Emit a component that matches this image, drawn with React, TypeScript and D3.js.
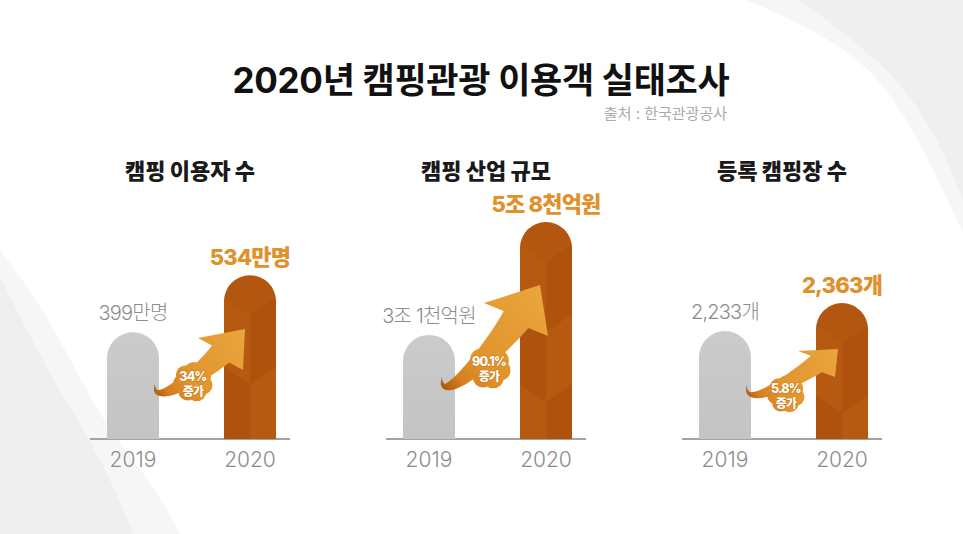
import React from "react";
import * as d3 from "d3";

const WIDTH = 963;
const HEIGHT = 534;
const BASELINE = 439;
const BAR_WIDTH = 52;
const MAX_BAR = 230;
const FONT = "Inter, 'Noto Sans CJK KR', 'Noto Sans', sans-serif";

const ORANGE = "#b3560f";
const LABEL_ORANGE = "#e0912b";
const GRAY_TEXT = "#8c8c8c";

// data
const panelTitles = ["캠핑 이용자 수", "캠핑 산업 규모", "등록 캠핑장 수"];
const years = ["2019", "2020"];
const values2019 = [399, 3.1, 2233];
const values2020 = [534, 5.8, 2363];
const labels2019 = ["399만명", "3조 1천억원", "2,233개"];
const labels2020 = ["534만명", "5조 8천억원", "2,363개"];
const growthLabels = ["34%", "90.1%", "5.8%"];
// the bars in the picture sit on a truncated axis
const axisMin = [146, 0.61, 1732];
const axisMax = [691, 6.11, 2800];

type Pt = [number, number];

// arrow layout, x relative to the panel's left edge
const ARROWS = [
    {tail: [65, 384], barbA: [108, 338], barbB: [153, 370], tip: [155, 329], text: [103, 381], r: 19, hw: 12},
    {tail: [56, 377], barbA: [98, 303], barbB: [162, 336], tip: [154, 285], text: [103, 366], r: 21, hw: 15},
    {tail: [65, 385], barbA: [116, 351], barbB: [153, 377], tip: [156, 349], text: [104, 393], r: 18, hw: 10},
];

function arrowPath(T: Pt, a: Pt, b: Pt, E: Pt, hw: number) {
    const B: Pt = [(a[0] + b[0]) / 2, (a[1] + b[1]) / 2];
    let dx = E[0] - B[0], dy = E[1] - B[1];
    const dl = Math.hypot(dx, dy);
    dx /= dl; dy /= dl;
    const dist = Math.hypot(B[0] - T[0], B[1] - T[1]);
    const P1: Pt = [T[0] - 4, T[1] + 0.34 * dist];
    const P2: Pt = [B[0] - dx * 0.45 * dist, B[1] - dy * 0.45 * dist];
    const left: Pt[] = [];
    const right: Pt[] = [];
    const N = 48;
    for (let i = 0; i <= N; i++) {
        const t = i / N, u = 1 - t;
        const cx = u * u * u * T[0] + 3 * u * u * t * P1[0] + 3 * u * t * t * P2[0] + t * t * t * B[0];
        const cy = u * u * u * T[1] + 3 * u * u * t * P1[1] + 3 * u * t * t * P2[1] + t * t * t * B[1];
        const tx = 3 * u * u * (P1[0] - T[0]) + 6 * u * t * (P2[0] - P1[0]) + 3 * t * t * (B[0] - P2[0]);
        const ty = 3 * u * u * (P1[1] - T[1]) + 6 * u * t * (P2[1] - P1[1]) + 3 * t * t * (B[1] - P2[1]);
        const tl = Math.hypot(tx, ty) || 1;
        const nx = -ty / tl, ny = tx / tl;
        const w = hw * Math.pow(t, 0.95);
        left.push([cx + nx * w, cy + ny * w]);
        right.push([cx - nx * w, cy - ny * w]);
    }
    const pts = [...left, b, E, a, ...right.reverse()];
    return d3.line()(pts) + "Z";
}

function barPath(x0: number, top: number, w: number) {
    const r = w / 2;
    return `M${x0},${BASELINE}V${top + r}A${r},${r} 0 0 1 ${x0 + w},${top + r}V${BASELINE}Z`;
}

const swoosh = d3.line().curve(d3.curveNatural);

export default function App() {
    const panelX = d3.scaleBand<number>().domain(d3.range(3)).range([90, 90 + 296 * 3]);
    const yearX = d3.scalePoint<string>().domain(years).range([43, 160]);

    return (
        <svg width={WIDTH} height={HEIGHT} style={{position: "absolute", left: 0, top: 0}} fontFamily={FONT}>
            <rect width={WIDTH} height={HEIGHT} fill="#fff"/>
            {/* background swooshes */}
            <path d={swoosh([[747, 0], [833, 43], [900, 110], [963, 233]]) + "L963,0Z"} fill="#f6f6f6"/>
            <path d={swoosh([[800, 0], [883, 67], [933, 133], [963, 200]]) + "L963,0Z"} fill="#efefef"/>
            <path d={swoosh([[0, 250], [50, 323], [100, 413], [150, 483], [180, 534]]) + "L0,534Z"} fill="#f6f6f6"/>
            <path d={swoosh([[0, 277], [50, 373], [100, 460], [133, 534]]) + "L0,534Z"} fill="#efefef"/>

            <text x={481} y={93} textAnchor="middle" fontSize={35} fontWeight={700} fill="#111" letterSpacing={-0.3}>
                2020년 캠핑관광 이용객 실태조사
            </text>
            <text x={727} y={119} textAnchor="end" fontSize={15} fill="#aaaaaa">출처 : 한국관광공사</text>

            <defs>
                {ARROWS.map((ar, i) => {
                    const px = panelX(i)!;
                    return (
                        <linearGradient key={i} id={"arrowGrad" + i} gradientUnits="userSpaceOnUse"
                                        x1={px + ar.tail[0] - 5} y1={ar.tail[1] + 10} x2={px + ar.tip[0]} y2={ar.tip[1]}>
                            <stop offset="0" stopColor="#a4520b"/>
                            <stop offset="0.15" stopColor="#d68020"/>
                            <stop offset="0.35" stopColor="#e0932b"/>
                            <stop offset="1" stopColor="#eba63f"/>
                        </linearGradient>
                    );
                })}
                <linearGradient id="grayGrad" x1="0" y1="0" x2="0" y2="1">
                    <stop offset="0" stopColor="#cbcbcb"/>
                    <stop offset="1" stopColor="#c4c4c4"/>
                </linearGradient>
                {panelTitles.map((_, i) => {
                    const y = d3.scaleLinear().domain([axisMin[i], axisMax[i]]).range([0, MAX_BAR]);
                    const x0 = panelX(i)! + yearX("2020")! - BAR_WIDTH / 2;
                    return (
                        <clipPath key={i} id={"barClip" + i}>
                            <path d={barPath(x0, BASELINE - y(values2020[i]), BAR_WIDTH)}/>
                        </clipPath>
                    );
                })}
            </defs>

            {panelTitles.map((title, i) => {
                const px = panelX(i)!;
                const y = d3.scaleLinear().domain([axisMin[i], axisMax[i]]).range([0, MAX_BAR]);
                const h19 = y(values2019[i]);
                const h20 = y(values2020[i]);
                const x19 = px + yearX("2019")!;
                const x20 = px + yearX("2020")!;
                const top20 = BASELINE - h20;
                const ar = ARROWS[i];
                const sh = (p: number[]): Pt => [px + p[0], p[1]];
                const facets = d3.range(0, Math.ceil(h20 / 70) + 1).map(k => top20 + 22 + k * 70);
                const bx0 = x20 - BAR_WIDTH / 2, bx1 = x20 + BAR_WIDTH / 2;
                const tc = sh(ar.text);
                const bumps = d3.range(7).map(k => {
                    const a = (k / 7) * Math.PI * 2 + 0.3;
                    return [tc[0] + Math.cos(a) * ar.r * 0.55, tc[1] + Math.sin(a) * ar.r * 0.55];
                });
                const grad = `url(#arrowGrad${i})`;
                return (
                    <g key={i}>
                        <text x={px + 100} y={179} textAnchor="middle" fontSize={22} fontWeight={900} fill="#1a1a1a">
                            {title}
                        </text>
                        <line x1={px} x2={px + 200} y1={BASELINE} y2={BASELINE} stroke="#a3a3a3" strokeWidth={2}/>

                        <path d={barPath(x19 - BAR_WIDTH / 2, BASELINE - h19, BAR_WIDTH)} fill="url(#grayGrad)"/>

                        <path d={barPath(bx0, top20, BAR_WIDTH)} fill={ORANGE}/>
                        <g clipPath={`url(#barClip${i})`}>
                            {facets.map((fy, k) => (
                                <g key={k}>
                                    <path d={`M${bx0},${fy}L${x20},${fy + 18}L${x20},${fy + 88}L${bx0},${fy + 70}Z`}
                                          fill={k % 2 ? "#a84e0c" : "#bb5e13"} opacity={0.45}/>
                                    <path d={`M${x20},${fy + 18}L${bx1},${fy}L${bx1},${fy + 70}L${x20},${fy + 88}Z`}
                                          fill={k % 2 ? "#bb5e13" : "#a84e0c"} opacity={0.45}/>
                                </g>
                            ))}
                        </g>

                        <path d={arrowPath(sh(ar.tail), sh(ar.barbA), sh(ar.barbB), sh(ar.tip), ar.hw)} fill={grad}/>
                        <circle cx={tc[0]} cy={tc[1] + 1} r={ar.r * 0.85} fill={grad}/>
                        {bumps.map((b, k) => (
                            <circle key={k} cx={b[0]} cy={b[1] + 1} r={ar.r * 0.5} fill={grad}/>
                        ))}
                        <g fill="#fff" fontWeight={800} textAnchor="middle" stroke="#c87619" strokeWidth={1}
                           paintOrder="stroke" letterSpacing={-0.8}>
                            <text x={tc[0]} y={tc[1]} fontSize={12.5}>{growthLabels[i]}</text>
                            <text x={tc[0]} y={tc[1] + 15} fontSize={12}>증가</text>
                        </g>

                        <text x={x19} y={BASELINE - h19 - 12} textAnchor="middle" fontSize={20} fontWeight={300}
                              fill={GRAY_TEXT} letterSpacing={-0.8}>{labels2019[i]}</text>
                        <text x={x20} y={top20 - 10} textAnchor="middle" fontSize={22} fontWeight={800}
                              fill={LABEL_ORANGE} letterSpacing={-0.8}>{labels2020[i]}</text>

                        {years.map(yr => (
                            <text key={yr} x={px + yearX(yr)!} y={467} textAnchor="middle" fontSize={21}
                                  fontWeight={300} fill={GRAY_TEXT}>{yr}</text>
                        ))}
                    </g>
                );
            })}
        </svg>
    );
}
